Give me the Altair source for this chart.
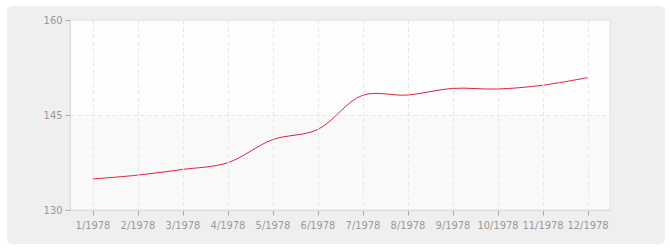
import altair as alt
import pandas as pd

months = ["1/1978", "2/1978", "3/1978", "4/1978", "5/1978", "6/1978",
          "7/1978", "8/1978", "9/1978", "10/1978", "11/1978", "12/1978"]
values = [134.9, 135.5, 136.4, 137.45, 141.1, 142.7,
          148.1, 148.15, 149.2, 149.1, 149.7, 150.9]

df = pd.DataFrame({"month": months, "value": values})
one = alt.Data(values=[{"a": 0}])

W, H = 540, 190
FONT = "DejaVu Sans Condensed"

panel = alt.Chart(one).mark_rect(color="#efefef", cornerRadius=5).encode(
    x=alt.value(-63), x2=alt.value(595), y=alt.value(-14), y2=alt.value(224)
)
plotbg = alt.Chart(one).mark_rect(color="#f9f9f9").encode(
    x=alt.value(0), x2=alt.value(W), y=alt.value(0), y2=alt.value(H)
)
upper = alt.Chart(one).mark_rect(color="#fdfdfd").encode(
    x=alt.value(0), x2=alt.value(W), y=alt.value(0), y2=alt.value(H / 2)
)
frame = alt.Chart(one).mark_rect(fill=None, stroke="#e2e2e2", strokeWidth=1).encode(
    x=alt.value(0), x2=alt.value(W), y=alt.value(0), y2=alt.value(H)
)

line = alt.Chart(df).mark_line(
    color="#e0203f", strokeWidth=1, interpolate="catmull-rom"
).encode(
    x=alt.X("month:N", sort=months,
            scale=alt.Scale(type="point", padding=0.5),
            axis=alt.Axis(title=None, labelAngle=0, labelColor="#999999",
                          labelFont=FONT, labelFontSize=11, labelPadding=4,
                          tickColor="#aaaaaa", tickSize=5, domainColor="#dddddd",
                          grid=True, gridColor="#e6e6e6", gridDash=[4, 3],
                          zindex=1)),
    y=alt.Y("value:Q",
            scale=alt.Scale(domain=[130, 160], nice=False, zero=False),
            axis=alt.Axis(title=None, values=[130, 145, 160], labelColor="#999999",
                          labelFont=FONT, labelFontSize=11, labelPadding=3,
                          tickColor="#aaaaaa", tickSize=5, domainColor="#dddddd",
                          grid=True, gridColor="#e6e6e6", gridDash=[4, 3],
                          zindex=1)),
)

chart = alt.layer(panel, plotbg, upper, frame, line).properties(
    width=W, height=H,
    autosize=alt.AutoSizeParams(type="none"),
    padding={"left": 70, "top": 20, "right": 60, "bottom": 40},
    background="white",
).configure_view(stroke=None)

chart.save("out.html", embed_options={"renderer": "svg", "actions": False})
